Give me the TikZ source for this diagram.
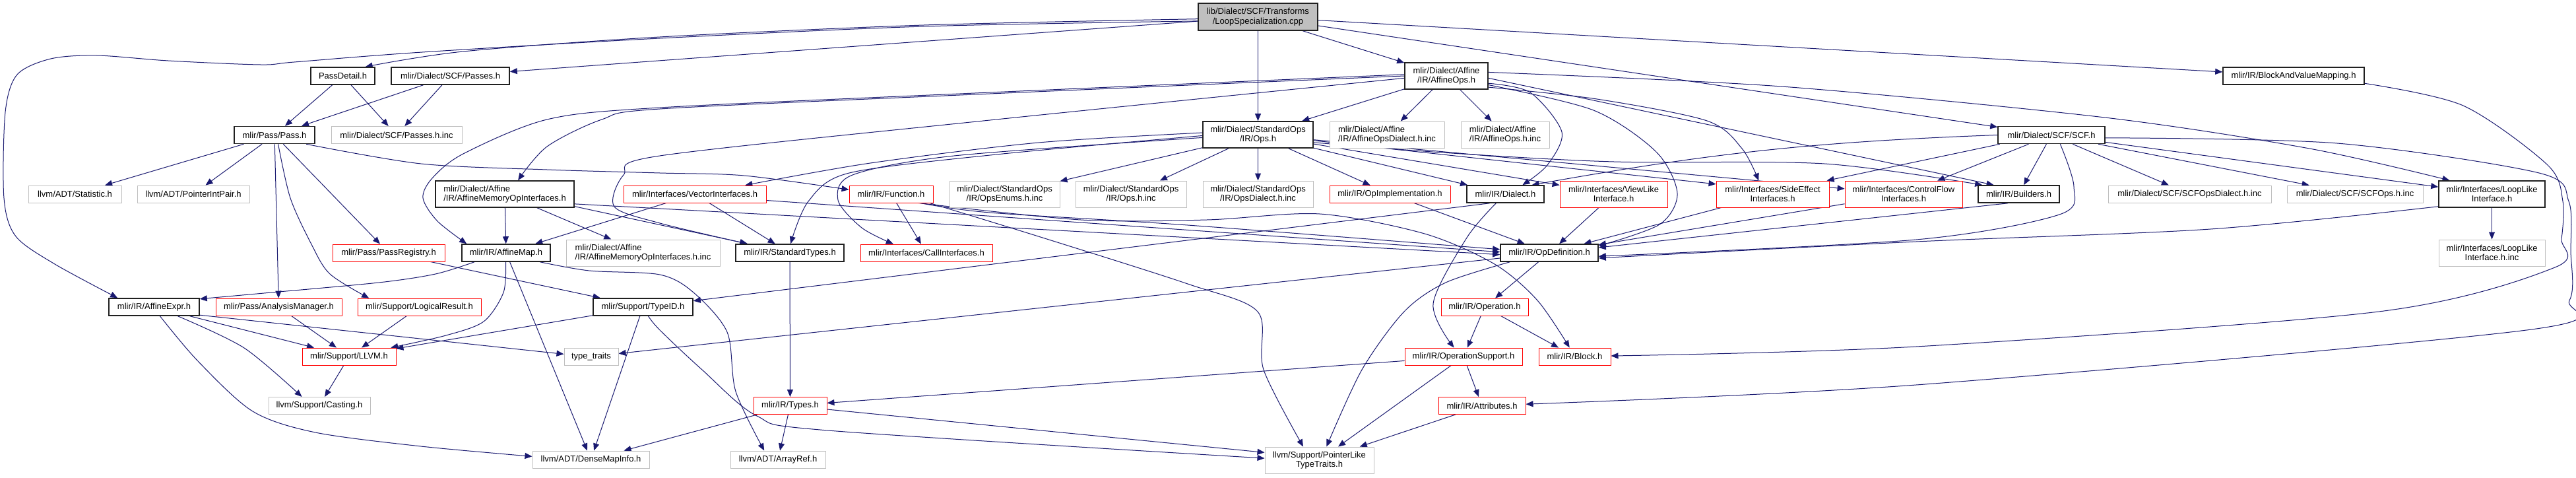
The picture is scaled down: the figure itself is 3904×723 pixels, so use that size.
\documentclass[tikz,border=0pt]{standalone}
\usepackage{fontspec}
\setmainfont{Liberation Sans}
\usetikzlibrary{arrows.meta}
\definecolor{ec}{HTML}{191970}
\definecolor{gb}{HTML}{BFBFBF}
\definecolor{rb}{HTML}{FF0000}
\definecolor{bk}{HTML}{202020}
\pgfdeclarelayer{bg}
\pgfsetlayers{bg,main}
\begin{document}
\begin{tikzpicture}[x=1pt,y=-1pt,
 box/.style={rectangle, inner sep=0pt, fill=white, font=\fontsize{13pt}{14.5pt}\selectfont},
 nb/.style={box, draw=bk, line width=1.6pt},
 nr/.style={box, draw=rb, line width=0.9pt},
 ng/.style={box, draw=gb, line width=1pt},
 ntop/.style={box, draw=bk, fill=gb, line width=1.6pt},
 conn/.style={draw=ec, line width=1pt, -{Triangle[length=11pt,width=9pt]}},
 sz/.style 2 args={minimum width=#1pt, minimum height=#2pt}
]
\useasboundingbox (0,0) rectangle (3904,723);
% row A/B
\node[ntop,sz={181}{41},align=center] (top) at (1906.5,25.5) {lib/Dialect/SCF/Transforms\\/LoopSpecialization.cpp};
\node[nb,sz={97}{26}] (passdetail) at (519.5,115) {PassDetail.h};
\node[nb,sz={179}{26}] (passes) at (682.5,115) {mlir/Dialect/SCF/Passes.h};
\node[nb,sz={126}{40},align=center] (affineops) at (2192,115) {mlir/Dialect/Affine\\/IR/AffineOps.h};
\node[nb,sz={214}{26}] (bavm) at (3476,115) {mlir/IR/BlockAndValueMapping.h};
% row C
\node[nb,sz={122}{26}] (pass) at (416,204.5) {mlir/Pass/Pass.h};
\node[ng,sz={198}{26}] (passesinc) at (601,204.5) {mlir/Dialect/SCF/Passes.h.inc};
\node[nb,sz={167}{40},align=center] (opsh) at (1906.5,204) {mlir/Dialect/StandardOps\\/IR/Ops.h};
\node[ng,sz={174}{40},align=left] (affopsdialectinc) at (2102,204) {mlir/Dialect/Affine\\/IR/AffineOpsDialect.h.inc};
\node[ng,sz={134}{40},align=left] (affopsinc) at (2281,204) {mlir/Dialect/Affine\\/IR/AffineOps.h.inc};
\node[nb,sz={162}{26}] (scf) at (3109,204.5) {mlir/Dialect/SCF/SCF.h};
% row D
\node[ng,sz={141}{26}] (statistic) at (113.5,294) {llvm/ADT/Statistic.h};
\node[ng,sz={170}{26}] (pip) at (293,294) {llvm/ADT/PointerIntPair.h};
\node[nb,sz={210}{40},align=left] (affmemop) at (765,294) {mlir/Dialect/Affine\\/IR/AffineMemoryOpInterfaces.h};
\node[nr,sz={216}{26}] (vector) at (1053,294) {mlir/Interfaces/VectorInterfaces.h};
\node[nr,sz={127}{26}] (function) at (1350.5,294) {mlir/IR/Function.h};
\node[ng,sz={167}{40},align=center] (opsenums) at (1522.5,294) {mlir/Dialect/StandardOps\\/IR/OpsEnums.h.inc};
\node[ng,sz={168}{40},align=center] (opsinc) at (1714,294) {mlir/Dialect/StandardOps\\/IR/Ops.h.inc};
\node[ng,sz={167}{40},align=center] (opsdialect) at (1906.5,294) {mlir/Dialect/StandardOps\\/IR/OpsDialect.h.inc};
\node[nr,sz={183}{26}] (opimpl) at (2106.5,294) {mlir/IR/OpImplementation.h};
\node[nb,sz={117}{26}] (dialect) at (2281.5,294) {mlir/IR/Dialect.h};
\node[nr,sz={163}{40},align=center] (viewlike) at (2445.5,294) {mlir/Interfaces/ViewLike\\Interface.h};
\node[nr,sz={171}{40},align=center] (sideeffect) at (2686.5,294) {mlir/Interfaces/SideEffect\\Interfaces.h};
\node[nr,sz={178}{40},align=center] (controlflow) at (2885,294) {mlir/Interfaces/ControlFlow\\Interfaces.h};
\node[nb,sz={123}{26}] (builders) at (3059.5,294) {mlir/IR/Builders.h};
\node[ng,sz={247}{26}] (scfdialectinc) at (3318.5,294) {mlir/Dialect/SCF/SCFOpsDialect.h.inc};
\node[ng,sz={206}{26}] (scfopsinc) at (3569,294) {mlir/Dialect/SCF/SCFOps.h.inc};
\node[nb,sz={161}{40},align=center] (looplike) at (3776.5,294) {mlir/Interfaces/LoopLike\\Interface.h};
% row E
\node[nr,sz={170}{26}] (passreg) at (589,383) {mlir/Pass/PassRegistry.h};
\node[nb,sz={134}{26}] (affmap) at (767,383) {mlir/IR/AffineMap.h};
\node[ng,sz={233}{40},align=left] (affmemopinc) at (974.5,383) {mlir/Dialect/Affine\\/IR/AffineMemoryOpInterfaces.h.inc};
\node[nb,sz={164}{26}] (stdtypes) at (1197,383) {mlir/IR/StandardTypes.h};
\node[nr,sz={200}{26}] (callif) at (1404,383) {mlir/Interfaces/CallInterfaces.h};
\node[nb,sz={148}{26}] (opdef) at (2348,383) {mlir/IR/OpDefinition.h};
\node[ng,sz={161}{40},align=center] (looplikeinc) at (3776.5,383) {mlir/Interfaces/LoopLike\\Interface.h.inc};
% row F
\node[nb,sz={137}{26}] (affexpr) at (233.5,465) {mlir/IR/AffineExpr.h};
\node[nr,sz={191}{26}] (analysis) at (422.5,465) {mlir/Pass/AnalysisManager.h};
\node[nr,sz={187}{26}] (logical) at (635.5,465) {mlir/Support/LogicalResult.h};
\node[nb,sz={151}{26}] (typeid) at (974.5,465) {mlir/Support/TypeID.h};
\node[nr,sz={132}{26}] (operation) at (2250,465) {mlir/IR/Operation.h};
% row G
\node[nr,sz={142}{26}] (llvmh) at (529,540) {mlir/Support/LLVM.h};
\node[ng,sz={82}{26}] (typetraits) at (896,540) {type\_traits};
\node[nr,sz={178}{26}] (opsupport) at (2218,540) {mlir/IR/OperationSupport.h};
\node[nr,sz={109}{26}] (block) at (2386.5,540) {mlir/IR/Block.h};
% row H
\node[ng,sz={154}{26}] (casting) at (484,614.5) {llvm/Support/Casting.h};
\node[nr,sz={111}{26}] (types) at (1197.5,614.5) {mlir/IR/Types.h};
\node[nr,sz={132}{26}] (attributes) at (2246,614.5) {mlir/IR/Attributes.h};
% row I
\node[ng,sz={177}{26}] (densemap) at (895.5,696) {llvm/ADT/DenseMapInfo.h};
\node[ng,sz={144}{26}] (arrayref) at (1179,696) {llvm/ADT/ArrayRef.h};
\node[ng,sz={165}{40},align=center] (plt) at (1999.5,697) {llvm/Support/PointerLike\\TypeTraits.h};

\begin{pgfonlayer}{bg}
\fill[white] (0,0) rectangle (3904,723);
% from top
\draw[conn] plot[smooth] coordinates {(top.182) (1400,38) (1000,56) (702,78) (passdetail.22)};
\draw[conn] plot[smooth] coordinates {(top.184) (1400,40) (1000,58) (640,79) (446,94) (395,98) (255,92) (147,84) (77,89) (26,113) (8,170) (6,300) (24,358) (83,400) (affexpr.166)};
\draw[conn] (top) -- (passes);
\draw[conn] (top) -- (opsh);
\draw[conn] (top) -- (affineops);
\draw[conn] (top) -- (scf);
\draw[conn] (top) -- (bavm);
% passdetail, passes
\draw[conn] (passdetail) -- (pass);
\draw[conn] (passdetail) -- (passesinc);
\draw[conn] (passes) -- (pass);
\draw[conn] (passes) -- (passesinc);
% pass
\draw[conn] (pass) -- (statistic);
\draw[conn] (pass) -- (pip);
\draw[conn] (pass) -- (analysis);
\draw[conn] plot[smooth] coordinates {(pass.-68) (440,300) (472,370) (500,415) (logical.170)};
\draw[conn] (pass) -- (passreg);
\draw[conn] plot[smooth] coordinates {(pass.-16) (638,248) (829,257) (1000,262) (1128,266) (function.174)};
\draw[conn] (passreg) -- (typeid);
% affine ops
\draw[conn] plot[smooth] coordinates {(affineops.180) (1500,142) (1000,165) (912,181) (829,222) (affmemop.46)};
\draw[conn] plot[smooth] coordinates {(affineops.178) (1500,140) (1000,163) (829,181) (702,233) (655,270) (641,300) (663,335) (affmap.167)};
\draw[conn] (affineops) -- (opsh);
\draw[conn] (affineops) -- (affopsdialectinc);
\draw[conn] (affineops) -- (affopsinc);
\draw[conn] plot[smooth] coordinates {(affineops.-10) (2319,140) (2367,200) (2345,250) (dialect.28)};
\draw[conn] plot[smooth] coordinates {(affineops.-12) (2415,167) (2510,230) (2542,293) (2515,340) (opdef.8)};
\draw[conn] plot[smooth] coordinates {(affineops.-15) (2420,150) (2587,183) (2640,225) (sideeffect.136)};
\draw[conn] (affineops.-3) -- (builders.160);
\draw[conn] plot[smooth] coordinates {(affineops.5) (2700,131) (3190,178) (3500,225) (looplike.162)};
\draw[conn] plot[smooth] coordinates {(affineops.183) (1500,182) (1000,236) (945,265) (931,313) (1000,338) (stdtypes.168)};
% ops.h
\draw[conn] plot[smooth] coordinates {(opsh.178) (1574,216) (1319,247) (vector.10)};
\draw[conn] plot[smooth] coordinates {(opsh.181) (1510,234) (1287,262) (1225,305) (stdtypes.85)};
\draw[conn] plot[smooth] coordinates {(opsh.183) (1446,236) (1292,265) (1270,303) (1306,345) (callif.165)};
\draw[conn] (opsh) -- (opsenums);
\draw[conn] (opsh) -- (opsinc);
\draw[conn] (opsh) -- (opsdialect);
\draw[conn] (opsh) -- (opimpl);
\draw[conn] (opsh) -- (dialect);
\draw[conn] (opsh) -- (viewlike);
\draw[conn] (opsh.-6) -- (sideeffect.170);
\draw[conn] (opsh) -- (controlflow);
\draw[conn] plot[smooth] coordinates {(opsh.-8) (2200,232) (2446,245) (2765,248) (builders.166)};
% affmemop
\draw[conn] (affmemop) -- (affmap);
\draw[conn] (affmemop) -- (affmemopinc);
\draw[conn] (affmemop.-8) -- (opdef.182);
\draw[conn] (affmemop.-10) -- (stdtypes);
% vector
\draw[conn] (vector) -- (affmap);
\draw[conn] (vector) -- (stdtypes);
\draw[conn] (vector.-5) -- (opdef.179);
% function
\draw[conn] (function) -- (callif);
\draw[conn] plot[smooth] coordinates {(function.-17) (1500,322) (1800,341) (opdef.176)};
\draw[conn] plot[smooth] coordinates {(function.-18) (1638,333) (1829,333) (2000,324) (2159,354) (2265,400) (2330,455) (block.120)};
\draw[conn] plot[smooth] coordinates {(function.-13) (1580,360) (1800,430) (1906,472) (1915,560) (plt.140)};
% affmap
\draw[conn] plot[smooth] coordinates {(affmap.-164) (660,415) (574,428) (400,444) (affexpr.10)};
\draw[conn] plot[smooth] coordinates {(affmap.-92) (763,443) (733,487) (676,508) (llvmh.12)};
\draw[conn] (affmap) -- (densemap);
\draw[conn] plot[smooth] coordinates {(affmap.-15) (893,410) (1000,416) (1051,443) (1102,503) (1115,593) (arrayref.147)};
% affexpr
\draw[conn] (affexpr) -- (llvmh);
\draw[conn] plot[smooth] coordinates {(affexpr.-21) (370,527) (casting.153)};
\draw[conn] plot[smooth] coordinates {(affexpr.-57) (300,547) (383,623) (478,655) (638,676) (densemap.177)};
\draw[conn] (affexpr.-10) -- (typetraits.175);
% support
\draw[conn] (analysis) -- (llvmh);
\draw[conn] (logical) -- (llvmh);
\draw[conn] (typeid) -- (llvmh);
\draw[conn] (typeid) -- (densemap);
\draw[conn] plot[smooth] coordinates {(typeid.-60) (1000,500) (1064,560) (1147,630) (1255,652) (plt.178)};
\draw[conn] (llvmh) -- (casting);
% types
\draw[conn] (stdtypes) -- (types);
\draw[conn] (types) -- (arrayref);
\draw[conn] (types) -- (densemap);
\draw[conn] (types) -- (plt.172);
% opdef and below
\draw[conn] (opdef) -- (operation);
\draw[conn] (opdef) -- (typetraits);
\draw[conn] plot[smooth] coordinates {(opdef.-167) (2191,428) (2128,472) (2064,560) (plt.62)};
\draw[conn] (operation) -- (opsupport);
\draw[conn] (operation) -- (block);
\draw[conn] (opsupport) -- (attributes);
\draw[conn] (opsupport) -- (plt);
\draw[conn] (opsupport) -- (types);
\draw[conn] (attributes) -- (plt);
% dialect
\draw[conn] (dialect.-150) -- (typeid);
\draw[conn] plot[smooth] coordinates {(dialect.-136) (2223,360) (2172,460) (opsupport.137)};
% interfaces to opdef
\draw[conn] (opimpl) -- (opdef);
\draw[conn] (viewlike) -- (opdef);
\draw[conn] (sideeffect) -- (opdef);
\draw[conn] (controlflow) -- (opdef);
\draw[conn] (builders.-140) -- (opdef);
\draw[conn] plot[smooth] coordinates {(looplike.-167) (3350,347) (2904,366) (opdef.-6)};
\draw[conn] (looplike) -- (looplikeinc);
% scf
\draw[conn] (scf.180) to[bend right=4] (dialect.19);
\draw[conn] (scf.190) -- (sideeffect.14);
\draw[conn] (scf) -- (controlflow);
\draw[conn] (scf) -- (builders);
\draw[conn] plot[smooth] coordinates {(scf.-46) (3143,283) (3121,325) (2904,363) (opdef.-4)};
\draw[conn] (scf) -- (scfdialectinc);
\draw[conn] (scf) -- (scfopsinc);
\draw[conn] (scf) -- (looplike);
\draw[conn] plot[smooth] coordinates {(scf.-3) (3542,217) (3848,262) (3893,305) (3896,380) (3894,455) (3829,500) (2904,583) (attributes.2)};
% bavm
\draw[conn] plot[smooth] coordinates {(bavm.-6) (3733,160) (3861,250) (3884,305) (3882,362) (3872,405) (3605,472) (2904,525) (block.1)};
\end{pgfonlayer}
\end{tikzpicture}
\end{document}
